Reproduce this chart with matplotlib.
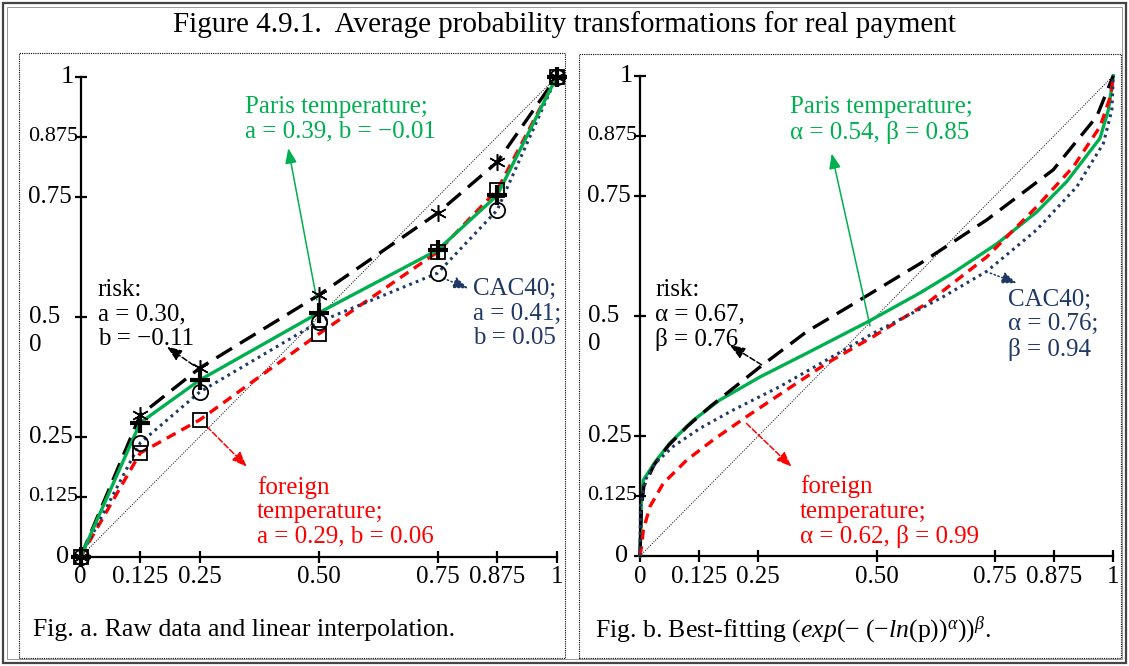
import matplotlib.pyplot as plt
from matplotlib.patches import Rectangle

plt.rcParams['font.family'] = 'Liberation Serif'
plt.rcParams['mathtext.fontset'] = 'custom'
plt.rcParams['mathtext.rm'] = 'Liberation Serif'
plt.rcParams['mathtext.it'] = 'Liberation Serif:italic'
plt.rcParams['mathtext.bf'] = 'Liberation Serif:bold'

# ---- data: panel a (raw points) ----
p_raw = [0, 0.125, 0.25, 0.5, 0.75, 0.875, 1]
risk_raw = [0, 0.295, 0.393, 0.545, 0.716, 0.822, 1]
paris_raw = [0, 0.279, 0.368, 0.508, 0.639, 0.753, 1]
foreign_raw = [0, 0.216, 0.285, 0.464, 0.635, 0.764, 1]
cac_raw = [0, 0.237, 0.343, 0.489, 0.591, 0.722, 1]

# ---- data: panel b (fitted curves) ----
p_risk_fit = [0, 0.003, 0.008, 0.03, 0.06, 0.1, 0.148, 0.254, 0.352, 0.451, 0.592, 0.733, 0.873, 0.965, 1]
w_risk_fit = [0, 0.10, 0.145, 0.19, 0.23, 0.27, 0.311, 0.394, 0.467, 0.525, 0.609, 0.700, 0.804, 0.915, 1]
p_paris_fit = [0, 0.003, 0.007, 0.032, 0.063, 0.113, 0.169, 0.254, 0.352, 0.482, 0.592, 0.662, 0.754, 0.838, 0.902, 0.972, 0.99, 1]
w_paris_fit = [0, 0.12, 0.158, 0.196, 0.235, 0.283, 0.325, 0.373, 0.422, 0.488, 0.548, 0.590, 0.650, 0.716, 0.780, 0.870, 0.93, 1]
p_cac_fit = [0, 0.001, 0.011, 0.032, 0.070, 0.127, 0.197, 0.296, 0.394, 0.493, 0.570, 0.641, 0.733, 0.838, 0.923, 0.979, 0.997, 1]
w_cac_fit = [0, 0.103, 0.158, 0.193, 0.228, 0.266, 0.304, 0.353, 0.408, 0.464, 0.503, 0.540, 0.593, 0.679, 0.769, 0.859, 0.929, 1]
p_foreign_fit = [0, 0.004, 0.007, 0.021, 0.049, 0.099, 0.155, 0.225, 0.310, 0.394, 0.493, 0.606, 0.733, 0.838, 0.916, 0.972, 0.995, 1]
w_foreign_fit = [0, 0.025, 0.054, 0.103, 0.151, 0.200, 0.242, 0.290, 0.346, 0.401, 0.457, 0.526, 0.623, 0.727, 0.811, 0.894, 0.96, 1]

ticks = [0, 0.125, 0.25, 0.5, 0.75, 0.875, 1]
x_tick_labels = ['0', '0.125', '0.25', '0.50', '0.75', '0.875', '1']
y_tick_labels = ['0', '0.125', '0.25', '0.5', '0.75', '0.875', '1']

GREEN = '#00B050'
NAVY = '#1F3864'
RED = '#FF0000'

W, H = 1129, 666
fig = plt.figure(figsize=(W / 100, H / 100), dpi=100)


def fx(px):
    return px / W


def fy(py):
    return 1 - py / H


# outer frame (double line) and dotted panel boxes
fig.patches.append(Rectangle((fx(3), fy(663)), fx(1123), 660 / H, transform=fig.transFigure,
                             fill=False, ec='#444444', lw=1.6))
fig.patches.append(Rectangle((fx(7), fy(659)), fx(1115), 652 / H, transform=fig.transFigure,
                             fill=False, ec='#888888', lw=0.6))
fig.patches.append(Rectangle((fx(19), fy(658)), fx(546), 605 / H, transform=fig.transFigure,
                             fill=False, ec='black', lw=0.8, ls=(0, (1, 1))))
fig.patches.append(Rectangle((fx(579), fy(658)), fx(542), 604 / H, transform=fig.transFigure,
                             fill=False, ec='black', lw=0.8, ls=(0, (1, 1))))

fig.text(0.5, fy(25), 'Figure 4.9.1.  Average probability transformations for real payment',
         ha='center', va='center', fontsize=21)
fig.text(fx(33), fy(630), 'Fig. a. Raw data and linear interpolation.', ha='left', va='center', fontsize=18.5)
fig.text(fx(595), fy(630),
         r'Fig. b. Best-fitting $(\mathit{exp}(-\ (-\mathit{ln}(\mathrm{p}))^{\alpha}))^{\beta}$.',
         ha='left', va='center', fontsize=18.5)

ax1 = fig.add_axes([fx(80.7), fy(556.7), 476 / W, 480 / H])
ax2 = fig.add_axes([fx(640), fy(556), 473.3 / W, 480.3 / H])

y_label_off = [-25, -53, -52, -52, -53, -53, -20]
y_label_size = [19, 16, 18, 18, 18, 16, 19]


def style_axes(ax):
    ax.patch.set_alpha(0)
    for s in ['top', 'right']:
        ax.spines[s].set_visible(False)
    for s in ['left', 'bottom']:
        ax.spines[s].set_linewidth(1.6)
    ax.set_xlim(0, 1)
    ax.set_ylim(0, 1)
    ax.set_xticks(ticks, x_tick_labels, fontsize=18)
    ax.set_yticks(ticks, [])
    ax.tick_params(direction='inout', length=9, width=1.6, pad=2.5)
    wpx = ax.get_position().width * W
    for t, lab, off, fs in zip(ticks, y_tick_labels, y_label_off, y_label_size):
        ax.text(off / wpx, t, lab, transform=ax.get_yaxis_transform(), ha='left', va='center', fontsize=fs)
    ax.text(-52 / wpx, 0.441, '0', transform=ax.get_yaxis_transform(), ha='left', va='center', fontsize=18)
    ax.plot([0, 1], [0, 1], color='black', lw=0.7, ls=(0, (1, 1.5)))


def arrow(ax, tail, head, color, ls):
    ax.annotate('', xy=head, xytext=tail,
                arrowprops=dict(arrowstyle='-|>,head_length=0.9,head_width=0.35', color=color, lw=1.1,
                                ls=ls, shrinkA=0, shrinkB=0))


style_axes(ax1)
style_axes(ax2)

# ---- panel a ----
ax1.plot(p_raw, risk_raw, color='black', lw=2.4, dashes=(5.5, 2.8), clip_on=False, zorder=3)
ax1.plot(p_raw, foreign_raw, color=RED, lw=2.4, dashes=(3, 2), clip_on=False, zorder=3)
ax1.plot(p_raw, cac_raw, color=NAVY, lw=2.2, dashes=(0.9, 1.4), clip_on=False, zorder=3)
ax1.plot(p_raw, paris_raw, color=GREEN, lw=2.4, clip_on=False, zorder=4)
ax1.plot(p_raw, risk_raw, ls='none', marker=(6, 2, 0), ms=12, mec='black', mew=1.1, clip_on=False, zorder=5)
ax1.plot(p_raw, paris_raw, ls='none', marker='+', ms=14, mec='black', mew=3, clip_on=False, zorder=5)
ax1.plot(p_raw, foreign_raw, ls='none', marker='s', ms=10, mfc='none', mec='black', mew=1.3, clip_on=False, zorder=5)
ax1.plot(p_raw, cac_raw, ls='none', marker='o', ms=11, mfc='none', mec='black', mew=1.3, clip_on=False, zorder=5)

TXT = dict(fontsize=18, ha='left', va='center', linespacing=1.15)
ax1.text(0.345, 0.911, 'Paris temperature;\na = 0.39, b = \u22120.01', color=GREEN, **TXT)
arrow(ax1, (0.496, 0.535), (0.436, 0.851), GREEN, '-')
ax1.text(0.036, 0.504, 'risk:\na = 0.30,\nb = \u22120.11', color='black', **TXT)
arrow(ax1, (0.237, 0.399), (0.181, 0.4375), 'black', '--')
ax1.text(0.824, 0.506, 'CAC40;\na = 0.41;\nb = 0.05', color=NAVY, **TXT)
arrow(ax1, (0.762, 0.580), (0.814, 0.559), NAVY, ':')
ax1.text(0.370, 0.094, 'foreign\ntemperature;\na = 0.29, b = 0.06', color=RED, **TXT)
arrow(ax1, (0.265, 0.271), (0.349, 0.1875), RED, '--')

# ---- panel b ----
ax2.plot(p_risk_fit, w_risk_fit, color='black', lw=2.4, dashes=(5.5, 2.8), clip_on=False, zorder=3)
ax2.plot(p_foreign_fit, w_foreign_fit, color=RED, lw=2.4, dashes=(3, 2), clip_on=False, zorder=3)
ax2.plot(p_cac_fit, w_cac_fit, color=NAVY, lw=2.2, dashes=(0.9, 1.4), clip_on=False, zorder=3)
ax2.plot(p_paris_fit, w_paris_fit, color=GREEN, lw=2.4, clip_on=False, zorder=2)

ax2.text(0.317, 0.908, 'Paris temperature;\n\u03b1 = 0.54, \u03b2 = 0.85', color=GREEN, **TXT)
arrow(ax2, (0.486, 0.479), (0.405, 0.838), GREEN, '-')
ax2.text(0.032, 0.502, 'risk:\n\u03b1 = 0.67,\n\u03b2 = 0.76', color='black', **TXT)
arrow(ax2, (0.257, 0.398), (0.190, 0.439), 'black', '--')
ax2.text(0.778, 0.481, 'CAC40;\n\u03b1 = 0.76;\n\u03b2 = 0.94', color=NAVY, **TXT)
arrow(ax2, (0.740, 0.589), (0.796, 0.568), NAVY, ':')
ax2.text(0.338, 0.092, 'foreign\ntemperature;\n\u03b1 = 0.62, \u03b2 = 0.99', color=RED, **TXT)
arrow(ax2, (0.225, 0.276), (0.320, 0.186), RED, '--')

fig.savefig('out.png', dpi=100)
